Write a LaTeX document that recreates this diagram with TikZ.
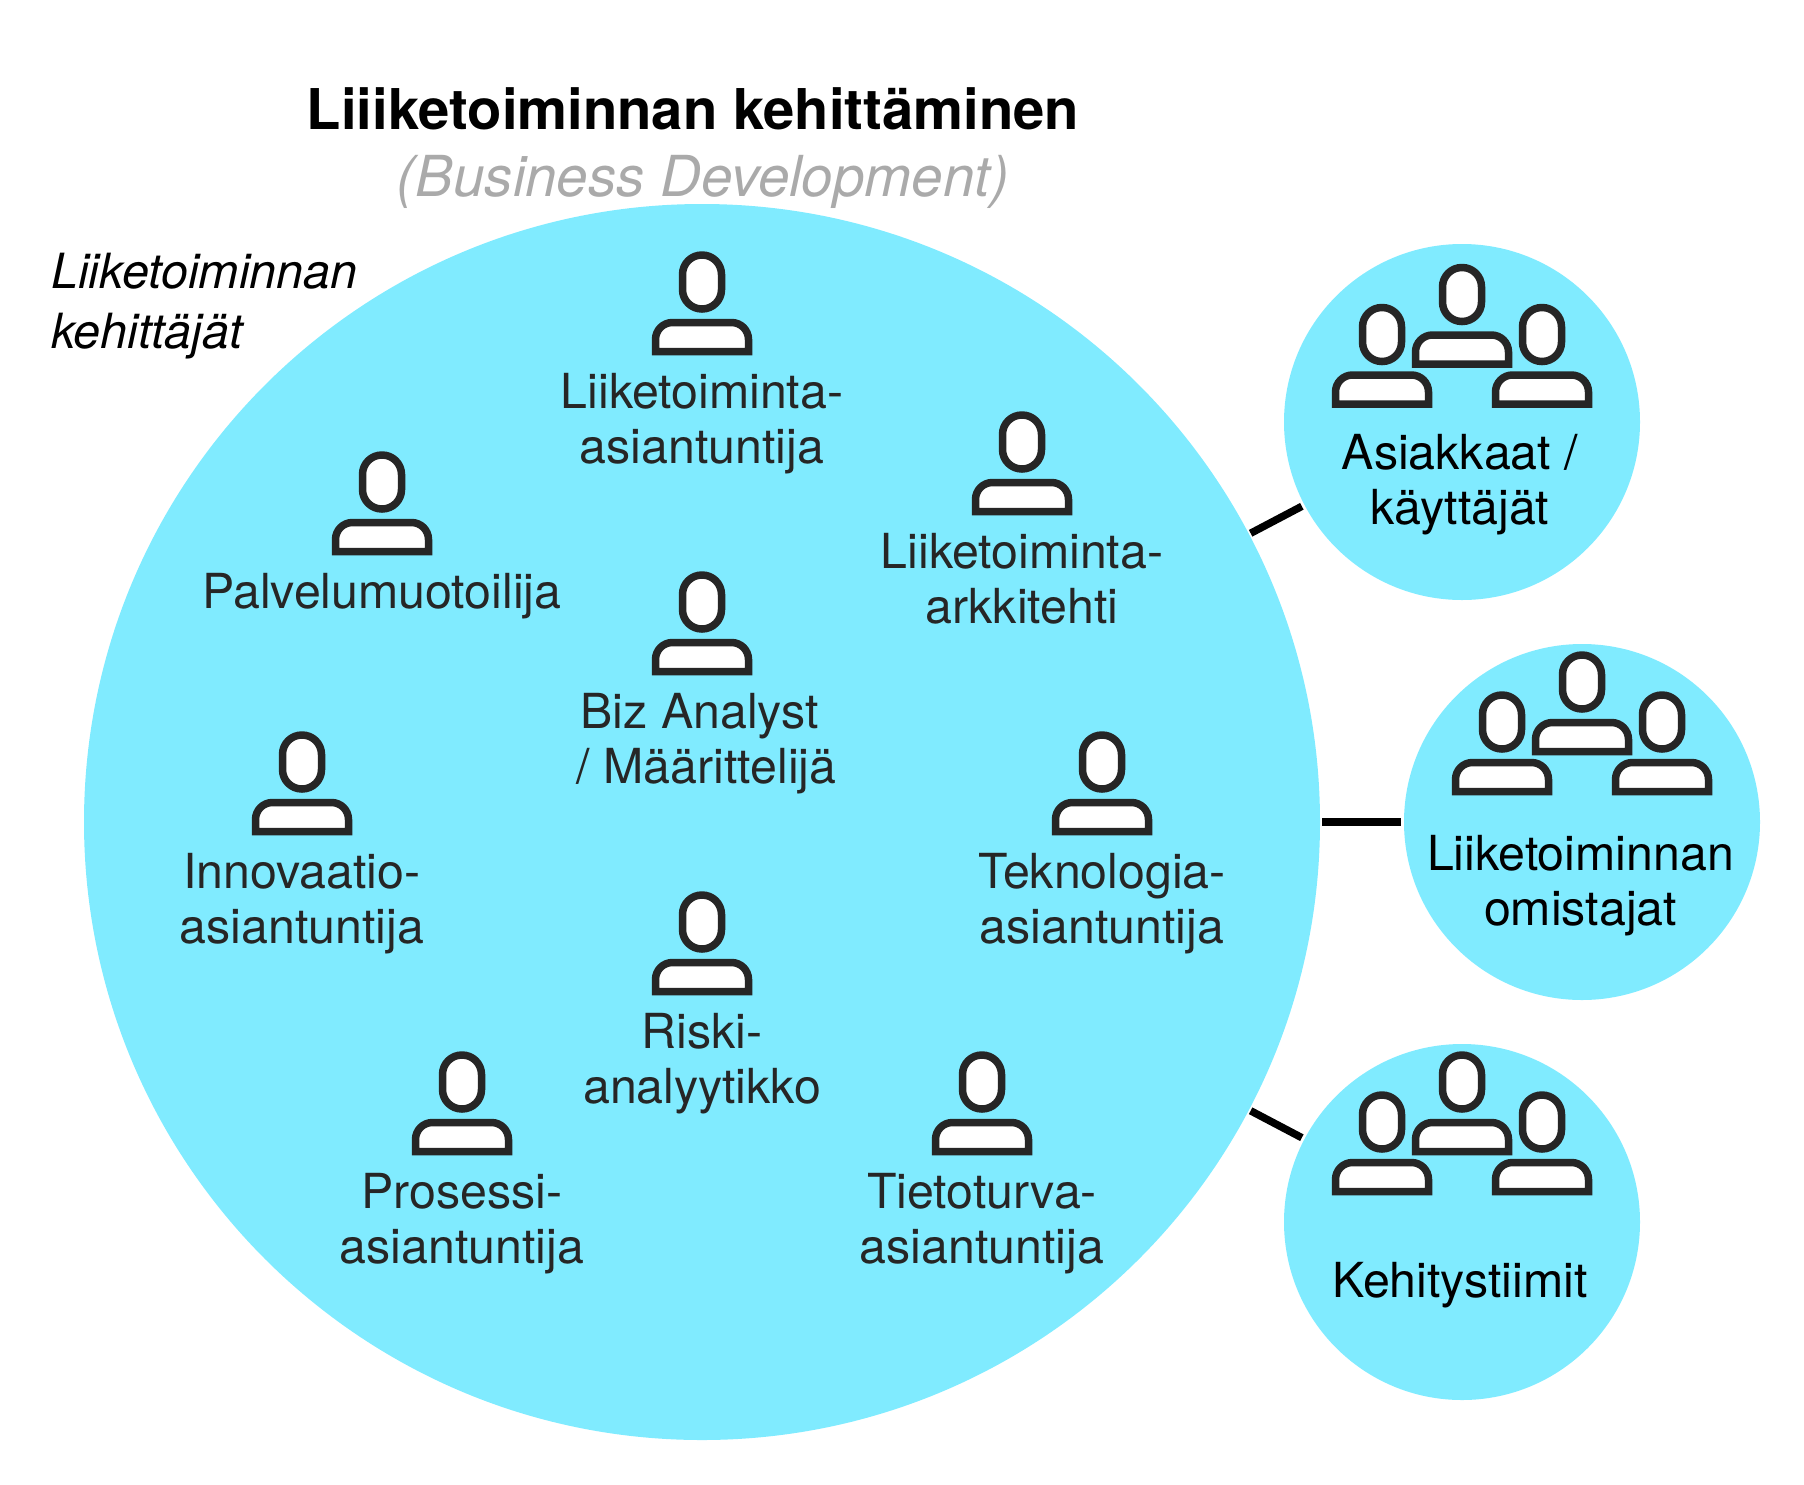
\documentclass[tikz,border=0pt]{standalone}
\usepackage{fontspec}
\setmainfont{TeX Gyre Heros}
\definecolor{bubble}{HTML}{80EBFF}
\definecolor{ink}{HTML}{262626}
\definecolor{subgray}{HTML}{AAAAAA}
\tikzset{
  x=1pt,y=-1pt,
  bubblenode/.style={circle,fill=bubble,draw=none,inner sep=0pt,outer sep=0pt},
  link/.style={draw=black,line width=7.5pt,shorten >=3pt,shorten <=2pt},
  iconline/.style={draw=ink,fill=white,line width=7.5pt},
  role/.style={anchor=north,inner sep=0pt,outer sep=0pt,align=center,text=ink,font=\fontsize{48.3}{55}\selectfont},
  grouplabel/.style={role,text=black},
  person/.pic={
    \path[iconline,rounded corners=19.4pt] (-19.5,-27) rectangle (19.5,27);
    \path[iconline] (-46.5,69.5) -- (-46.5,57.5) .. controls (-46.5,48.1) and (-38.9,40.5) .. (-29.5,40.5) -- (29.5,40.5) .. controls (38.9,40.5) and (46.5,48.1) .. (46.5,57.5) -- (46.5,69.5) -- cycle;
  },
  trio/.pic={
    \pic at (-80,40) {person};
    \pic at (80,40) {person};
    \pic at (0,0) {person};
  }
}
\newcommand{\rolelabel}[5]{%
  \pic at (#2,#3) {person};
  \node[role] (#1) at (#2,#3+87.5) {\strut #4\\\strut #5};
}
\begin{document}
\begin{tikzpicture}
\useasboundingbox (0,0) rectangle (1804,1484);
\node[bubblenode,minimum size=1236pt] (main) at (702,822) {};
\node[bubblenode,minimum size=356pt] (c1) at (1462,422) {};
\node[bubblenode,minimum size=356pt] (c2) at (1582,822) {};
\node[bubblenode,minimum size=356pt] (c3) at (1462,1222) {};
\draw[link] (main) -- (c1);
\draw[link] (main) -- (c2);
\draw[link] (main) -- (c3);

\node[anchor=base,inner sep=0pt,font=\fontsize{56.2}{64}\selectfont\bfseries] (title) at (693,129) {Liiiketoiminnan kehittäminen};
\node[anchor=base,inner sep=0pt,text=subgray,font=\fontsize{56.5}{64}\selectfont\itshape] (subtitle) at (703,196.5) {(Business Development)};
\node[anchor=north west,inner sep=0pt,align=left,font=\fontsize{48.5}{60}\selectfont\itshape] (devs) at (51,246) {\strut Liiketoiminnan\\\strut kehittäjät};

\rolelabel{r1}{702}{282}{Liiketoiminta-}{asiantuntija}
\rolelabel{r2}{1022}{442}{Liiketoiminta-}{arkkitehti}
\pic at (382,482) {person};
\node[role] (r3) at (382,569.5) {\strut Palvelumuotoilija};
\rolelabel{r4}{702}{602}{Biz Analyst\hspace*{4.6pt}}{\hspace*{9.2pt}/ Määrittelijä}
\rolelabel{r5}{302}{762}{Innovaatio-}{asiantuntija}
\rolelabel{r6}{1102}{762}{Teknologia-}{asiantuntija}
\rolelabel{r7}{702}{922}{Riski-}{analyytikko}
\rolelabel{r8}{462}{1082}{Prosessi-}{asiantuntija}
\rolelabel{r9}{982}{1082}{Tietoturva-}{asiantuntija}

\pic at (1462,294.5) {trio};
\node[grouplabel] (g1) at (1460,430.5) {\strut Asiakkaat /\\\strut käyttäjät};
\pic at (1582,682) {trio};
\node[grouplabel] (g2) at (1580.5,831.5) {\strut Liiketoiminnan\\\strut omistajat};
\pic at (1462,1082) {trio};
\node[grouplabel] (g3) at (1460,1258.5) {\strut Kehitystiimit};
\end{tikzpicture}
\end{document}
